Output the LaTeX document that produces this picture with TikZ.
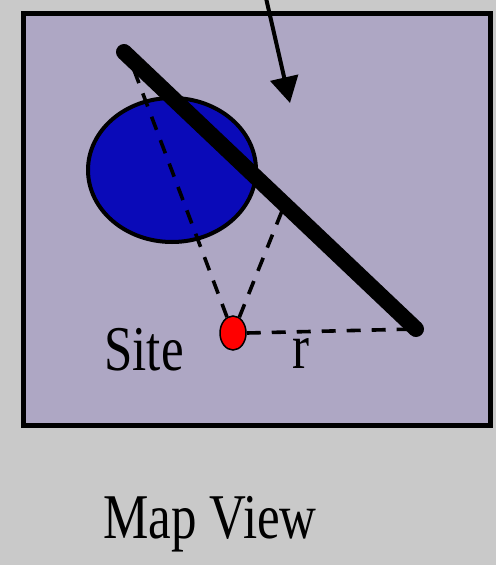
\documentclass[tikz,border=0pt]{standalone}
\usepackage{fontspec}
\setmainfont{Liberation Serif}
\usetikzlibrary{arrows.meta,shapes.geometric}
\definecolor{paper}{HTML}{C9C9C9}
\definecolor{mapfill}{HTML}{AEA7C4}
\definecolor{lake}{HTML}{0A0AB8}
\definecolor{sitered}{HTML}{FF0000}

\begin{document}
\begin{tikzpicture}[x=1pt, y=-1pt,
  lbl/.style={inner sep=0pt, font=\fontsize{51}{52}\selectfont},
  rng/.style={dashed, dash pattern=on 14pt off 11pt, line width=3.6pt, draw=black},
  arr/.style={-{Triangle[length=26pt,width=28pt]}, line width=4pt}]
% page and map frame
\useasboundingbox (0,0) rectangle (496,565);
\fill[paper] (0,0) rectangle (496,565);
\draw[line width=5pt, fill=mapfill] (23,13) rectangle (490,425);
% water body
\node[ellipse, draw, line width=4pt, fill=lake, minimum width=168pt, minimum height=144pt, inner sep=0pt] (lake) at (172,170) {};
% fault trace and its reference points
\coordinate (fA) at (124,52);
\coordinate (fB) at (416,329);
\coordinate (fT) at (134,70);
\coordinate (fP) at (284,206);
\coordinate (top) at (266,-2);
\coordinate (tip) at (290,103);
% site
\node[ellipse, draw, line width=1.5pt, fill=sitered, minimum width=26pt, minimum height=34pt, inner sep=0pt] (site) at (233,333) {};
% distances from the site
\draw[rng] (site) -- (fT);
\draw[rng] (site) -- (fP);
\draw[rng] (site.east) -- (fB);
\draw[line width=16pt, line cap=round] (fA) -- (fB);
\draw[arr] (top) -- (tip);
% labels
\node[lbl] (sitelbl) at (144,350) {\scalebox{1}[1.25]{Site}};
\node[lbl] (rlbl) at (301,353) {\scalebox{1}[1.25]{r}};
\node[lbl] (title) at (210,524) {\scalebox{1}[1.25]{Map View}};
\end{tikzpicture}
\end{document}
